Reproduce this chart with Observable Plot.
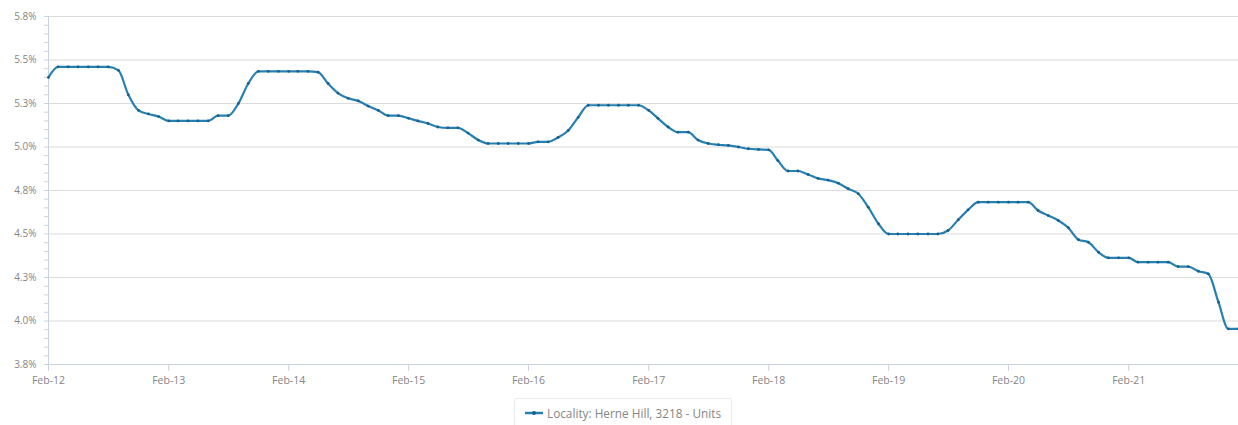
<!DOCTYPE html>
<html>
<head>
<meta charset="utf-8">
<script src="https://cdn.jsdelivr.net/npm/d3@7"></script>
<script src="https://cdn.jsdelivr.net/npm/@observablehq/plot@0.6"></script>
<style>
  html, body { margin: 0; padding: 0; background: #fff; }
  body { width: 1238px; height: 425px; overflow: hidden; font-family: "Open Sans", sans-serif; }
  #legend { display: flex; justify-content: center; margin-top: 6px; padding-left: 8px; }
  #legend .box { border: 1px solid #ececec; border-radius: 2px; padding: 6px 10px 6px 9px; display: flex; align-items: center; gap: 3px; font-size: 11.8px; color: #858585; }
</style>
</head>
<body>
<div id="chart"></div>
<div id="legend"><div class="box"><svg width="20" height="10"><line x1="1" x2="19" y1="5" y2="5" stroke="#2680b4" stroke-width="2.5"/><circle cx="10" cy="5" r="2" fill="#1c5f88"/></svg><span>Locality: Herne Hill, 3218 - Units</span></div></div>
<script>
// Series start (first month) and monthly values (%)
const startMonth = "2012-02-01";
const endMonth = "2022-01-01";
const seriesName = "Locality: Herne Hill, 3218 - Units";
const values = [
  5.40, 5.46, 5.46, 5.46, 5.46, 5.46, 5.46, 5.44, 5.30, 5.21, 5.19, 5.175,
  5.15, 5.15, 5.15, 5.15, 5.15, 5.18, 5.18, 5.25, 5.365, 5.435, 5.435, 5.435,
  5.435, 5.435, 5.435, 5.43, 5.365, 5.31, 5.28, 5.265, 5.235, 5.21, 5.18, 5.18,
  5.165, 5.15, 5.135, 5.115, 5.11, 5.11, 5.08, 5.04, 5.02, 5.02, 5.02, 5.02,
  5.02, 5.03, 5.03, 5.055, 5.095, 5.17, 5.24, 5.24, 5.24, 5.24, 5.24, 5.24,
  5.21, 5.165, 5.115, 5.085, 5.085, 5.04, 5.02, 5.013, 5.009, 5.0, 4.99, 4.986,
  4.984, 4.922, 4.862, 4.862, 4.842, 4.82, 4.81, 4.792, 4.76, 4.731, 4.654, 4.559,
  4.50, 4.50, 4.50, 4.50, 4.50, 4.50, 4.52, 4.582, 4.639, 4.683, 4.683, 4.683,
  4.683, 4.683, 4.683, 4.635, 4.606, 4.578, 4.536, 4.467, 4.453, 4.395, 4.363, 4.363,
  4.363, 4.338, 4.338, 4.338, 4.338, 4.313, 4.313, 4.286, 4.271, 4.108, 3.955, 3.955
];
const yTicks = [3.75, 4.0, 4.25, 4.5, 4.75, 5.0, 5.25, 5.5, 5.75];
const xTickLabels = ["Feb-12", "Feb-13", "Feb-14", "Feb-15", "Feb-16", "Feb-17", "Feb-18", "Feb-19", "Feb-20", "Feb-21"];

const parseLabel = d3.utcParse("%b-%y");
const start = new Date(startMonth);
const end = new Date(endMonth);
const data = values.map((v, i) => ({date: d3.utcMonth.offset(start, i), value: v}));
const xTicks = xTickLabels.map(parseLabel);
const minorTicks = d3.range(0, 41).map(i => 3.75 + i * 0.05);

const axisColor = "#c9d3e3";
const chart = Plot.plot({
  width: 1238,
  height: 392,
  marginLeft: 48,
  marginRight: 0,
  marginTop: 16,
  marginBottom: 28,
  style: {fontFamily: "Open Sans, sans-serif", fontSize: "10px", color: "#858585", background: "#fff"},
  x: {type: "utc", domain: [start, end]},
  y: {domain: [3.75, 5.75]},
  marks: [
    Plot.gridY(yTicks, {stroke: "#dcdcdc", strokeOpacity: 1, strokeWidth: 1.2}),
    Plot.axisY(minorTicks, {tickSize: 4, tickFormat: () => "", stroke: axisColor, label: null}),
    Plot.axisY(yTicks, {tickSize: 0, tickPadding: 12, tickFormat: d => d.toFixed(1) + "%", label: null, fill: "#858585"}),
    Plot.axisX(xTicks, {tickSize: 7, tickPadding: 5, tickFormat: d3.utcFormat("%b-%y"), stroke: axisColor, label: null, fill: "#858585", fontSize: 10.5}),
    Plot.ruleX([start], {stroke: axisColor}),
    Plot.ruleY([3.75], {stroke: axisColor}),
    Plot.line(data, {x: "date", y: "value", curve: "monotone-x", stroke: "#2680b4", strokeWidth: 2.2}),
    Plot.dot(data, {x: "date", y: "value", r: 1.4, fill: "#1c5f88"})
  ]
});
document.getElementById("chart").appendChild(chart);
</script>
</body>
</html>
